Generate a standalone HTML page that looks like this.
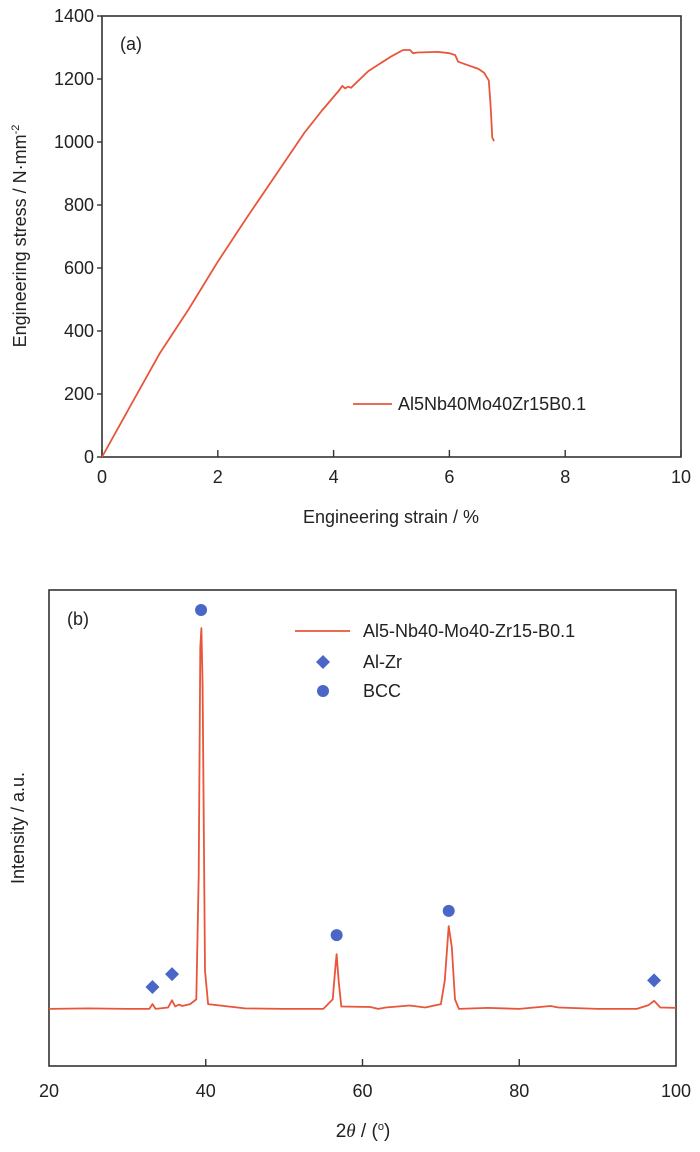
<!DOCTYPE html>
<html><head><meta charset="utf-8"><style>
html,body{margin:0;padding:0;background:#fff;}
svg{display:block;font-family:"Liberation Sans",Arial,sans-serif;}
</style></head><body>
<svg width="700" height="1152" viewBox="0 0 700 1152" xmlns="http://www.w3.org/2000/svg">
<g id="chartA"></g>
<g id="chartB"></g>
</svg>
<script>
// ---- Chart (a) data ----
const strainVals = [0,0.5,1,1.5,2,2.5,3,3.5,3.8,4.1,4.15,4.2,4.25,4.3,4.6,5.0,5.2,5.32,5.37,5.45,5.8,6.0,6.1,6.15,6.3,6.5,6.6,6.68,6.71,6.73,6.74,6.77];
const stressVals = [0,165,330,470,620,760,895,1030,1100,1165,1178,1170,1176,1172,1225,1272,1292,1292,1282,1284,1286,1282,1276,1255,1245,1232,1220,1195,1120,1050,1015,1003];
const aXTicks = [0,2,4,6,8,10];
const aYTicks = [0,200,400,600,800,1000,1200,1400];
// ---- Chart (b) data ----
const twoTheta = [20,25,30,32.8,33.2,33.6,35.2,35.7,36.1,36.6,37,38,38.8,39.1,39.3,39.45,39.6,39.9,40.3,45,50,55,56.2,56.5,56.7,56.95,57.3,61,62,63,66,68,70,70.5,71,71.4,71.8,72.3,76,80,84,85,90,95,96.5,97.2,98,100];
const intensity = [12,12.1,12,12,13,12,12.3,13.8,12.5,12.9,12.6,13,14,40,88,92,80,20,13,12.1,12,12,14,20,23.5,18,12.5,12.4,12,12.3,12.7,12.3,13,18,29.4,25,14,12,12.2,12,12.6,12.3,12,12,12.8,13.7,12.3,12.2];
const alZrPos = [33.2,35.7,97.2];
const alZrMark = [16.6,19.3,18];
const bccPos = [39.4,56.7,71.0];
const bccMark = [95.8,27.5,32.6];
const bXTicks = [20,40,60,80,100];

const NS="http://www.w3.org/2000/svg";
function mk(parent,tag,attrs,text){const e=document.createElementNS(NS,tag);for(const k in attrs)e.setAttribute(k,attrs[k]);if(text!==undefined)e.textContent=text;parent.appendChild(e);return e;}
const RED="#e8553a", BLUE="#4a67c8";
const FS=18;

// ---- Chart A ----
(function(){
 const g=document.getElementById('chartA');
 const L=102,R=681,T=16,B=457;
 const xs=v=>L+(v-0)/10*(R-L), ys=v=>B-(v/1400)*(B-T);
 let e=mk(g,'rect',{x:L,y:T,width:R-L,height:B-T,fill:'none',stroke:'#333','stroke-width':1.6});
 
 aXTicks.forEach(t=>{
  e=mk(g,'line',{x1:xs(t),x2:xs(t),y1:B,y2:B-7,stroke:'#333','stroke-width':1.4});
  
  e=mk(g,'text',{x:xs(t),y:B+26,'font-size':FS,'text-anchor':'middle',fill:'#222'},String(t));
  
 });
 aYTicks.forEach(t=>{
  e=mk(g,'line',{x1:L,x2:L-5,y1:ys(t),y2:ys(t),stroke:'#333','stroke-width':1.4});
  
  e=mk(g,'text',{x:L-8,y:ys(t)+6,'font-size':FS,'text-anchor':'end',fill:'#222'},String(t));
  
 });
 e=mk(g,'text',{x:391,y:523,'font-size':FS,'text-anchor':'middle',fill:'#222'},'Engineering strain / %');
 
 const yt=mk(g,'text',{x:0,y:0,'font-size':FS,'text-anchor':'middle',fill:'#222',transform:'translate(26,236) rotate(-90)'});
 
 yt.appendChild(document.createTextNode('Engineering stress / N·mm'));
 mk(yt,'tspan',{dy:-7,'font-size':11},'-2');
 e=mk(g,'text',{x:120,y:50,'font-size':FS,fill:'#222'},'(a)');
 
 const d=strainVals.map((v,i)=>(i?'L':'M')+xs(v).toFixed(1)+','+ys(stressVals[i]).toFixed(1)).join('');
 e=mk(g,'path',{d:d,fill:'none',stroke:RED,'stroke-width':1.8,'stroke-linejoin':'round'});
 
 e=mk(g,'line',{x1:353,x2:392,y1:404,y2:404,stroke:RED,'stroke-width':1.8});
 
 e=mk(g,'text',{x:398,y:410,'font-size':FS,fill:'#222'},'Al5Nb40Mo40Zr15B0.1');
 
})();

// ---- Chart B ----
(function(){
 const g=document.getElementById('chartB');
 const L=49,R=676,T=590,B=1066;
 const xs=v=>L+(v-20)/80*(R-L), ys=v=>B-(v/100)*(B-T);
 let e=mk(g,'rect',{x:L,y:T,width:R-L,height:B-T,fill:'none',stroke:'#333','stroke-width':1.6});
 
 bXTicks.forEach(t=>{
  if(t>20&&t<100){e=mk(g,'line',{x1:xs(t),x2:xs(t),y1:B,y2:B-7,stroke:'#333','stroke-width':1.4});
  }
  e=mk(g,'text',{x:xs(t),y:B+31,'font-size':FS,'text-anchor':'middle',fill:'#222'},String(t));
  
 });
 const xt=mk(g,'text',{x:363,y:1137,'font-size':19,'text-anchor':'middle',fill:'#222'});
 
 xt.appendChild(document.createTextNode('2'));
 mk(xt,'tspan',{'font-style':'italic','font-family':'Liberation Serif, serif'},'θ');
 xt.appendChild(document.createTextNode(' / ('));
 mk(xt,'tspan',{dy:-7,'font-size':11},'o');
 mk(xt,'tspan',{dy:7},')');
 e=mk(g,'text',{x:0,y:0,'font-size':FS,'text-anchor':'middle',fill:'#222',transform:'translate(24,828) rotate(-90)'},'Intensity / a.u.');
 
 e=mk(g,'text',{x:67,y:625,'font-size':FS,fill:'#222'},'(b)');
 
 const d=twoTheta.map((v,i)=>(i?'L':'M')+xs(v).toFixed(1)+','+ys(intensity[i]).toFixed(1)).join('');
 e=mk(g,'path',{d:d,fill:'none',stroke:RED,'stroke-width':1.8,'stroke-linejoin':'round'});
 
 const diamond=(cx,cy,r)=>`M${cx},${cy-r}L${cx+r},${cy}L${cx},${cy+r}L${cx-r},${cy}Z`;
 alZrPos.forEach((p,i)=>{
  e=mk(g,'path',{d:diamond(xs(p),ys(alZrMark[i]),7),fill:BLUE});
  
 });
 bccPos.forEach((p,i)=>{
  e=mk(g,'circle',{cx:xs(p),cy:ys(bccMark[i]),r:6,fill:BLUE});
  
 });
 e=mk(g,'line',{x1:295,x2:350,y1:631,y2:631,stroke:RED,'stroke-width':1.8});
 
 e=mk(g,'text',{x:363,y:637,'font-size':FS,fill:'#222'},'Al5-Nb40-Mo40-Zr15-B0.1');
 
 e=mk(g,'path',{d:diamond(323,662,7),fill:BLUE});
 
 e=mk(g,'text',{x:363,y:668,'font-size':FS,fill:'#222'},'Al-Zr');
 
 e=mk(g,'circle',{cx:323,cy:691,r:6,fill:BLUE});
 
 e=mk(g,'text',{x:363,y:697,'font-size':FS,fill:'#222'},'BCC');
 
})();
</script>
</body></html>
